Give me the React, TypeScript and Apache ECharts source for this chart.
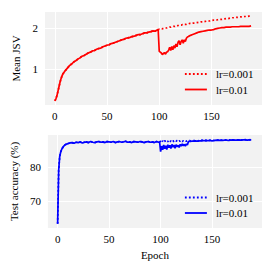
import React, { useEffect, useRef } from "react";
import * as echarts from "echarts";

const epochs = [
  0, 1, 2, 3, 4, 5, 6, 7, 8,
  10, 12, 14, 16, 18, 20, 22, 24, 26, 28, 30, 32, 34, 36, 38, 40, 42, 44, 46, 48,
  50, 52, 54, 56, 58, 60, 62, 64, 66, 68, 70, 72, 74, 76, 78, 80, 82, 84, 86, 88,
  90, 92, 94, 96, 98,
  99, 100, 101, 102, 103, 104, 105, 106, 107, 108, 109, 110, 111, 112, 113, 114,
  115, 116, 117, 118, 119, 120, 121, 122, 123, 124, 125, 126, 127, 128, 129, 130,
  132, 134, 136, 138, 140, 142, 144, 146, 148, 150, 152, 154, 156, 158, 160, 162,
  164, 166, 168, 170, 172, 174, 176, 178, 180, 182, 184, 186, 188,
];

// Mean JSV: shared until epoch 98, then the two runs diverge
const jsvShared = [
  0.23, 0.28, 0.36, 0.47, 0.58, 0.69, 0.78, 0.85, 0.9,
  0.97, 1.03, 1.09, 1.13, 1.18, 1.21, 1.25, 1.28, 1.32, 1.34,
  1.37, 1.4, 1.42, 1.45, 1.46, 1.49, 1.51, 1.52, 1.55, 1.57,
  1.59, 1.6, 1.63, 1.64, 1.66, 1.68, 1.7, 1.72, 1.73, 1.76,
  1.77, 1.78, 1.8, 1.81, 1.83, 1.85, 1.85, 1.87, 1.89, 1.89,
  1.91, 1.92, 1.94, 1.93, 1.96,
];
const jsvLr01Tail = [
  1.97, 1.44, 1.42, 1.4, 1.36, 1.39, 1.41, 1.37, 1.42, 1.43,
  1.47, 1.54, 1.46, 1.56, 1.48, 1.58, 1.52, 1.62, 1.55, 1.66,
  1.7, 1.6, 1.68, 1.72, 1.64, 1.72, 1.68, 1.76, 1.79, 1.8,
  1.82, 1.83,
  1.85, 1.87, 1.89, 1.91, 1.92, 1.93, 1.94, 1.95, 1.96, 1.96,
  1.97, 1.99, 2.0, 2.01, 2.02, 2.02, 2.03, 2.03, 2.03, 2.04,
  2.04, 2.04, 2.04, 2.05, 2.05, 2.05, 2.05, 2.05, 2.06,
];
const jsvLr001Tail = [
  1.97, 1.98, 1.98, 1.99, 1.99, 2.0, 2.0, 2.01, 2.01, 2.02,
  2.02, 2.03, 2.03, 2.04, 2.04, 2.05, 2.05, 2.06, 2.06, 2.07,
  2.07, 2.08, 2.08, 2.09, 2.09, 2.1, 2.1, 2.1, 2.11, 2.11,
  2.12, 2.12,
  2.13, 2.13, 2.14, 2.15, 2.16, 2.16, 2.17, 2.18, 2.18, 2.19,
  2.2, 2.2, 2.21, 2.22, 2.22, 2.23, 2.24, 2.24, 2.25, 2.26,
  2.26, 2.27, 2.27, 2.28, 2.28, 2.29, 2.29, 2.3, 2.3,
];

// Test accuracy (%)
const accShared = [
  63.5, 79.0, 82.9, 84.3, 85.1, 85.6, 86.0, 86.3, 86.5,
  86.7, 86.9, 87.0, 86.8, 87.1, 87.0, 87.2, 86.9, 87.1, 87.2,
  87.0, 87.3, 87.1, 87.0, 87.2, 87.3, 87.1, 87.2, 87.0, 87.3,
  87.2, 87.1, 87.3, 87.0, 87.2, 87.3, 87.1, 87.2, 87.4, 87.1,
  87.2, 87.0, 87.3, 87.2, 87.1, 87.3, 87.2, 87.0, 87.2, 87.3,
  87.1, 87.2, 87.0, 87.3, 87.1,
];
const accLr01Tail = [
  87.2, 84.4, 86.0, 84.9, 86.3, 85.2, 86.1, 85.0, 86.4, 85.5,
  86.2, 85.3, 86.5, 85.7, 86.3, 85.4, 86.4, 85.8, 86.2, 85.6,
  86.5, 86.0, 86.6, 86.1, 86.5, 86.0, 86.6, 86.3, 87.3, 87.4,
  87.3, 87.4,
  87.4, 87.5, 87.4, 87.5, 87.5, 87.6, 87.5, 87.6, 87.6, 87.5,
  87.6, 87.7, 87.6, 87.7, 87.6, 87.7, 87.7, 87.6, 87.7, 87.8,
  87.7, 87.7, 87.8, 87.7, 87.8, 87.8, 87.7, 87.8, 87.8,
];
const accLr001Tail = [
  87.2, 87.4, 87.0, 87.5, 87.2, 87.6, 87.1, 87.4, 87.3, 87.6,
  87.2, 87.5, 87.3, 87.6, 87.2, 87.5, 87.4, 87.6, 87.3, 87.5,
  87.4, 87.6, 87.3, 87.5, 87.4, 87.6, 87.4, 87.5, 87.5, 87.6,
  87.5, 87.6,
  87.6, 87.6, 87.5, 87.6, 87.7, 87.6, 87.7, 87.6, 87.7, 87.7,
  87.6, 87.7, 87.8, 87.7, 87.7, 87.8, 87.7, 87.8, 87.8, 87.7,
  87.8, 87.8, 87.8, 87.7, 87.8, 87.9, 87.8, 87.8, 87.9,
];

const xTicks = [0, 50, 100, 150];
const jsvTicks = [1, 2];
const accTicks = [70, 80];
const seriesNames = ["lr=0.001", "lr=0.01"];

const FONT = "'Liberation Serif', 'Times New Roman', serif";
const BG = "#f2f2f2";
const DOT = [1.8, 2.2];

const pair = (vals: number[]) => epochs.map((e, i) => [e, vals[i]]);

export default function App() {
  const ref = useRef<HTMLDivElement>(null);
  useEffect(() => {
    if (!ref.current) return;
    const chart = echarts.init(ref.current, undefined, { renderer: "svg" });
    const xAxisBase = (gridIndex: number, withName: boolean) => ({
      type: "value",
      gridIndex,
      min: -9.45,
      max: 198.45,
      axisLine: { show: false },
      axisTick: { show: false, customValues: xTicks },
      axisLabel: {
        customValues: xTicks,
        color: "#000",
        fontFamily: FONT,
        fontSize: 11,
        margin: 5,
      },
      splitLine: { show: true, lineStyle: { color: "#fff", width: 1 } },
      name: withName ? "Epoch" : "",
      nameLocation: "middle",
      nameGap: 21,
      nameTextStyle: { color: "#000", fontFamily: FONT, fontSize: 11 },
    });
    const yAxisBase = (gridIndex: number, min: number, max: number, ticks: number[], name: string, gap: number) => ({
      type: "value",
      gridIndex,
      min,
      max,
      axisLine: { show: false },
      axisTick: { show: false, customValues: ticks },
      axisLabel: {
        customValues: ticks,
        color: "#000",
        fontFamily: FONT,
        fontSize: 11,
        margin: 7,
      },
      splitLine: { show: true, lineStyle: { color: "#fff", width: 1 } },
      name,
      nameLocation: "middle",
      nameGap: gap,
      nameTextStyle: { color: "#000", fontFamily: FONT, fontSize: 11 },
    });
    const hidden = { color: "transparent", opacity: 0, borderWidth: 0 };
    const legendBase = (top: number, color: string) => ({
      orient: "vertical",
      left: 184,
      top,
      padding: 0,
      itemWidth: 22,
      itemHeight: 11,
      itemGap: 4.5,
      textStyle: { color: "#000", fontFamily: FONT, fontSize: 11, padding: [0, 0, 0, 4] },
      data: [
        { name: seriesNames[0], itemStyle: hidden, lineStyle: { color, type: DOT, width: 1.8, opacity: 1 } },
        { name: seriesNames[1], itemStyle: hidden, lineStyle: { color, type: "solid", width: 1.8, opacity: 1 } },
      ],
      selectedMode: false,
    });
    const lineSeries = (name: string, idx: number, data: number[][], color: string, dotted: boolean) => ({
      type: "line",
      name,
      xAxisIndex: idx,
      yAxisIndex: idx,
      data,
      showSymbol: false,
      symbol: "none",
      lineStyle: { color, width: 1.7, type: dotted ? DOT : "solid" },
      itemStyle: { color },
      clip: true,
    });
    chart.setOption({
      animation: false,
      backgroundColor: "#fff",
      grid: [
        { left: 45, top: 12, width: 217, height: 93, show: true, backgroundColor: BG, borderWidth: 0 },
        { left: 45, top: 135, width: 217, height: 93, show: true, backgroundColor: BG, borderWidth: 0 },
      ],
      xAxis: [xAxisBase(0, false), xAxisBase(1, true)],
      yAxis: [
        yAxisBase(0, 0.13, 2.4, jsvTicks, "Mean JSV", 15),
        yAxisBase(1, 62.3, 89.2, accTicks, "Test accuracy (%)", 19.5),
      ],
      legend: [legendBase(68.5, "#ff0000"), legendBase(192, "#0000ff")],
      series: [
        lineSeries(seriesNames[0], 0, pair(jsvShared.concat(jsvLr001Tail)), "#ff0000", true),
        lineSeries(seriesNames[1], 0, pair(jsvShared.concat(jsvLr01Tail)), "#ff0000", false),
        lineSeries(seriesNames[0], 1, pair(accShared.concat(accLr001Tail)), "#0000ff", true),
        lineSeries(seriesNames[1], 1, pair(accShared.concat(accLr01Tail)), "#0000ff", false),
      ],
    });
    return () => chart.dispose();
  }, []);
  return (
    <div
      ref={ref}
      style={{ position: "fixed", left: 0, top: 0, width: 274, height: 274 }}
    />
  );
}
